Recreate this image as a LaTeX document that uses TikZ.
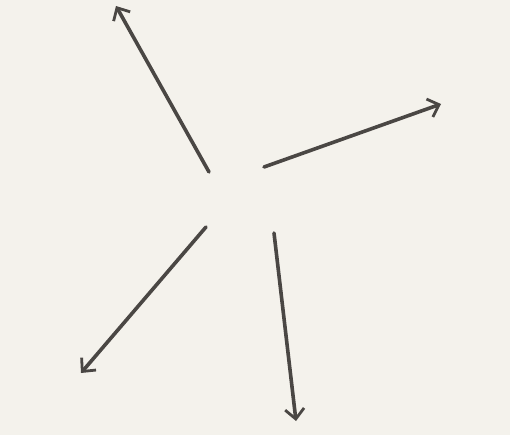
\documentclass[tikz,border=0pt]{standalone}
\usetikzlibrary{arrows.meta}
\definecolor{paper}{HTML}{F4F2EC}
\definecolor{ink}{HTML}{4A4744}
\begin{document}
\begin{tikzpicture}[x=1pt,y=-1pt,
  ray/.style={draw=ink,line width=3.6pt,line cap=round,
    -{Straight Barb[length=10pt,width=19pt,line width=2.8pt]}}]
\fill[paper] (0,0) rectangle (510,435);
\useasboundingbox (0,0) rectangle (510,435);
\coordinate (s1) at (209,172);
\coordinate (t1) at (116,6);
\coordinate (s2) at (264,167);
\coordinate (t2) at (441,104);
\coordinate (s3) at (206,227);
\coordinate (t3) at (81,373);
\coordinate (s4) at (274,233);
\coordinate (t4) at (296,421);
\draw[ray] (s1) -- (t1);
\draw[ray] (s2) -- (t2);
\draw[ray] (s3) -- (t3);
\draw[ray] (s4) -- (t4);
\end{tikzpicture}
\end{document}
